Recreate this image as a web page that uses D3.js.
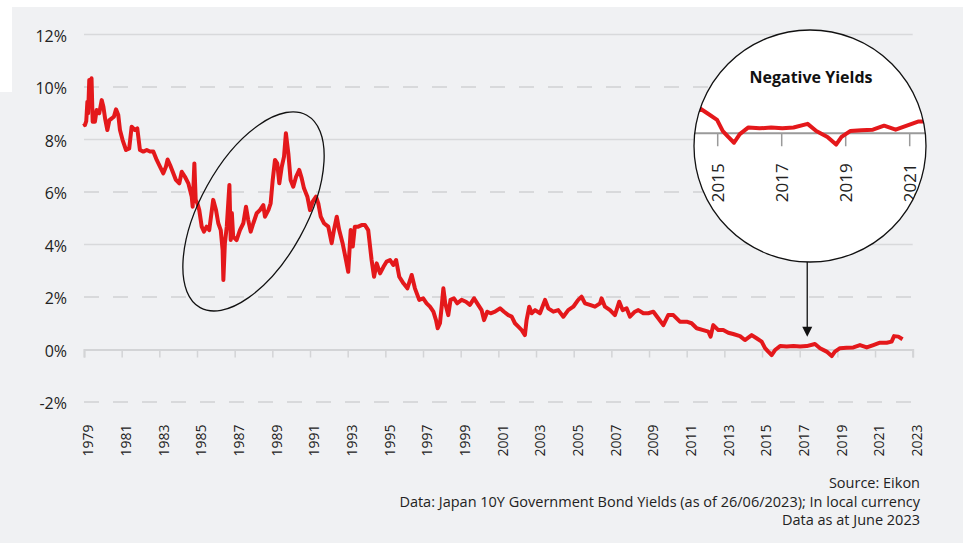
<!DOCTYPE html>
<html>
<head>
<meta charset="utf-8">
<script src="https://cdn.jsdelivr.net/npm/d3@7"></script>
<style>
  html, body { margin: 0; padding: 0; background: #fff; }
  svg { display: block; font-family: "Open Sans", "Noto Sans", sans-serif; }
</style>
</head>
<body>
<svg id="chart" width="963" height="550"></svg>
<script>
// Japan 10Y government bond yield (x in chart years)
const years = [
  1979.00, 1979.05, 1979.12, 1979.18, 1979.22, 1979.28, 1979.34, 1979.40, 1979.46, 1979.58,
  1979.67, 1979.81, 1979.94, 1980.03, 1980.12, 1980.24, 1980.35, 1980.47, 1980.59, 1980.70,
  1980.82, 1980.91, 1981.05, 1981.23, 1981.40, 1981.53, 1981.71, 1981.83, 1981.97, 1982.15,
  1982.33, 1982.50, 1982.68, 1982.86, 1983.04, 1983.21, 1983.35, 1983.44, 1983.57, 1983.71,
  1983.88, 1984.06, 1984.19, 1984.36, 1984.54, 1984.72, 1984.77, 1984.86, 1984.93, 1985.02,
  1985.12, 1985.25, 1985.37, 1985.51, 1985.65, 1985.86, 1986.01, 1986.13, 1986.26, 1986.36,
  1986.40, 1986.48, 1986.58, 1986.72, 1986.79, 1986.85, 1986.92, 1987.10, 1987.28, 1987.46,
  1987.60, 1987.72, 1987.85, 1987.99, 1988.17, 1988.34, 1988.52, 1988.61, 1988.79, 1988.91,
  1989.02, 1989.14, 1989.26, 1989.37, 1989.50, 1989.62, 1989.72, 1989.85, 1989.97, 1990.11,
  1990.26, 1990.43, 1990.56, 1990.68, 1990.86, 1991.00, 1991.14, 1991.32, 1991.44, 1991.57,
  1991.74, 1991.97, 1992.15, 1992.27, 1992.42, 1992.55, 1992.73, 1992.91, 1993.03, 1993.16,
  1993.27, 1993.38, 1993.56, 1993.74, 1993.92, 1994.09, 1994.27, 1994.40, 1994.54, 1994.72,
  1994.90, 1995.07, 1995.25, 1995.42, 1995.57, 1995.74, 1995.96, 1996.17, 1996.40, 1996.57,
  1996.80, 1997.01, 1997.19, 1997.37, 1997.55, 1997.69, 1997.78, 1997.90, 1997.99, 1998.08,
  1998.18, 1998.34, 1998.46, 1998.64, 1998.82, 1999.05, 1999.28, 1999.49, 1999.71, 1999.93,
  2000.11, 2000.24, 2000.41, 2000.59, 2000.82, 2001.09, 2001.30, 2001.53, 2001.71, 2001.88,
  2002.06, 2002.24, 2002.41, 2002.50, 2002.64, 2002.77, 2002.95, 2003.21, 2003.48, 2003.65,
  2003.92, 2004.18, 2004.45, 2004.71, 2004.98, 2005.24, 2005.42, 2005.60, 2005.86, 2006.13,
  2006.40, 2006.48, 2006.66, 2006.93, 2007.19, 2007.42, 2007.60, 2007.81, 2007.99, 2008.25,
  2008.43, 2008.70, 2008.96, 2009.23, 2009.49, 2009.76, 2010.02, 2010.29, 2010.64, 2011.00,
  2011.26, 2011.53, 2011.88, 2012.15, 2012.27, 2012.41, 2012.68, 2012.94, 2013.21, 2013.47,
  2013.83, 2014.09, 2014.45, 2014.71, 2014.98, 2015.16, 2015.33, 2015.51, 2015.69, 2015.96,
  2016.31, 2016.67, 2017.02, 2017.37, 2017.81, 2018.08, 2018.43, 2018.70, 2018.87, 2019.14,
  2019.49, 2019.85, 2020.20, 2020.56, 2020.91, 2021.26, 2021.62, 2021.88, 2022.01, 2022.24,
  2022.46
];
const yields = [
  8.62, 8.55, 8.70, 9.44, 9.00, 10.27, 9.60, 10.33, 8.68, 8.68,
  9.12, 9.00, 9.50, 9.25, 8.80, 8.36, 8.74, 8.80, 8.87, 9.15,
  8.93, 8.36, 7.98, 7.60, 7.66, 8.49, 8.36, 8.42, 7.60, 7.54,
  7.60, 7.54, 7.54, 7.22, 6.96, 6.71, 6.96, 7.24, 7.03, 6.77,
  6.46, 6.33, 6.77, 6.58, 6.33, 5.82, 5.44, 7.09, 5.70, 5.57,
  5.31, 4.68, 4.49, 4.68, 4.55, 5.70, 5.31, 4.81, 4.55, 3.79,
  2.65, 4.05, 4.68, 6.27, 4.17, 5.20, 4.30, 4.17, 4.55, 4.81,
  5.44, 4.93, 4.49, 4.81, 5.19, 5.31, 5.50, 5.06, 5.31, 5.57,
  6.46, 7.22, 7.09, 6.33, 6.96, 7.35, 8.24, 7.47, 6.46, 6.20,
  6.58, 6.84, 6.52, 6.14, 5.82, 5.31, 5.63, 5.82, 5.57, 5.06,
  4.81, 4.68, 4.05, 4.55, 5.06, 4.55, 4.05, 3.41, 2.96, 4.55,
  3.92, 4.68, 4.68, 4.74, 4.74, 4.55, 3.41, 2.77, 3.28, 2.90,
  3.15, 3.35, 3.41, 3.22, 3.41, 2.77, 2.52, 2.33, 2.84, 2.33,
  1.89, 1.95, 1.76, 1.63, 1.44, 1.12, 0.81, 1.00, 1.63, 2.33,
  1.76, 1.31, 1.89, 1.95, 1.76, 1.89, 1.82, 1.70, 1.95, 1.70,
  1.50, 1.12, 1.44, 1.38, 1.44, 1.57, 1.44, 1.31, 1.25, 1.00,
  0.87, 0.74, 0.55, 1.12, 1.63, 1.38, 1.50, 1.38, 1.89, 1.57,
  1.44, 1.50, 1.25, 1.50, 1.63, 1.89, 2.01, 1.76, 1.70, 1.63,
  1.76, 1.95, 1.63, 1.50, 1.31, 1.82, 1.50, 1.57, 1.25, 1.44,
  1.50, 1.38, 1.38, 1.44, 1.19, 0.93, 1.31, 1.31, 1.06, 1.06,
  1.00, 0.81, 0.74, 0.68, 0.49, 0.93, 0.74, 0.74, 0.64, 0.59,
  0.51, 0.36, 0.55, 0.43, 0.30, 0.05, -0.08, -0.21, -0.02, 0.13,
  0.11, 0.13, 0.11, 0.13, 0.21, 0.05, -0.08, -0.25, -0.08, 0.05,
  0.07, 0.08, 0.17, 0.08, 0.17, 0.26, 0.26, 0.30, 0.51, 0.49,
  0.39
];
const yTicks = [-2, 0, 2, 4, 6, 8, 10, 12];
const xTicks = [1979, 1981, 1983, 1985, 1987, 1989, 1991, 1993, 1995, 1997, 1999, 2001,
  2003, 2005, 2007, 2009, 2011, 2013, 2015, 2017, 2019, 2021, 2023];
const insetTicks = [2015, 2017, 2019, 2021];
const sourceLines = [
  "Source: Eikon",
  "Data: Japan 10Y Government Bond Yields (as of 26/06/2023); In local currency",
  "Data as at June 2023"
];

const data = years.map((d, i) => ({ year: d, value: yields[i] }));
const red = "#e4181b";

const svg = d3.select("#chart");

// background panel (slightly offset block at top-left like the source image)
svg.append("rect").attr("x", 12).attr("y", 7).attr("width", 951).attr("height", 536).attr("fill", "#f0f1f3");
svg.append("rect").attr("x", 0).attr("y", 92).attr("width", 12).attr("height", 451).attr("fill", "#f0f1f3");

const x = d3.scaleLinear().domain([1979, 2023]).range([84, 912.7]);
const y = d3.scaleLinear().domain([-2, 12]).range([402, 34.5]);

// gridlines: solid for multiples of 4, dashed otherwise
svg.append("g")
  .selectAll("line")
  .data(yTicks.filter(d => d !== 0))
  .join("line")
  .attr("x1", x.range()[0])
  .attr("x2", x.range()[1])
  .attr("y1", d => y(d))
  .attr("y2", d => y(d))
  .attr("stroke", "#d8d9db")
  .attr("stroke-width", d => d % 4 === 0 ? 1.5 : 2)
  .attr("stroke-dasharray", d => d % 4 === 0 ? null : "15,14");

// y labels
svg.append("g")
  .selectAll("text")
  .data(yTicks)
  .join("text")
  .attr("x", 67)
  .attr("y", d => y(d) + 1.5)
  .attr("dy", "0.35em")
  .attr("text-anchor", "end")
  .attr("font-size", 16)
  .attr("fill", "#222")
  .text(d => d + "%");

// x axis at 0%
const xAxis = svg.append("g")
  .attr("transform", `translate(0,${y(0)})`)
  .call(d3.axisBottom(x).tickValues(xTicks).tickSize(8).tickFormat(d3.format("d")));
xAxis.select(".domain").attr("stroke", "#d3d4d6").attr("stroke-width", 2);
xAxis.selectAll(".tick line").attr("stroke", "#d3d4d6").attr("stroke-width", 1.5);
xAxis.selectAll(".tick text")
  .attr("font-size", 14)
  .attr("font-family", "'Open Sans', sans-serif")
  .attr("fill", "#222")
  .attr("text-anchor", "end")
  .attr("transform", "translate(4,75) rotate(-90)")
  .attr("x", 0)
  .attr("y", 0)
  .attr("dy", "0.35em");

// main series
const line = d3.line().x(d => x(d.year)).y(d => y(d.value));
svg.append("path")
  .datum(data)
  .attr("fill", "none")
  .attr("stroke", red)
  .attr("stroke-width", 4)
  .attr("stroke-linejoin", "round")
  .attr("d", line);

// ellipse round the late-80s bubble
svg.append("ellipse")
  .attr("transform", `translate(${x(1988.0)},${y(5.26)}) rotate(-61)`)
  .attr("rx", 110)
  .attr("ry", 53)
  .attr("fill", "none")
  .attr("stroke", "#111")
  .attr("stroke-width", 1.3);

// inset: negative yields
const cx = 810, cy = 146, r = 116;
const xi = d3.scaleLinear().domain([2015, 2021]).range([717.7, 909.7]);
const yi = d3.scaleLinear().domain([0, 1]).range([133.3, 88.3]);

svg.append("defs").append("clipPath").attr("id", "insetClip")
  .append("circle").attr("cx", cx).attr("cy", cy).attr("r", r);

svg.append("circle").attr("cx", cx).attr("cy", cy).attr("r", r).attr("fill", "#fff");

const inset = svg.append("g").attr("clip-path", "url(#insetClip)");

inset.append("line")
  .attr("x1", cx - r).attr("x2", cx + r)
  .attr("y1", yi(0)).attr("y2", yi(0))
  .attr("stroke", "#9a9a9a").attr("stroke-width", 2);

inset.append("g")
  .selectAll("line")
  .data(insetTicks)
  .join("line")
  .attr("x1", d => xi(d)).attr("x2", d => xi(d))
  .attr("y1", yi(0)).attr("y2", yi(0) + 13)
  .attr("stroke", "#9a9a9a").attr("stroke-width", 1.5);

inset.append("g")
  .selectAll("text")
  .data(insetTicks)
  .join("text")
  .attr("transform", d => `translate(${xi(d)},${yi(0) + 30}) rotate(-90)`)
  .attr("dy", "0.35em")
  .attr("text-anchor", "end")
  .attr("font-size", 17)
  .attr("fill", "#222")
  .text(d => d);

inset.append("path")
  .datum(data.filter(d => d.year >= 2013.8))
  .attr("fill", "none")
  .attr("stroke", red)
  .attr("stroke-width", 4)
  .attr("stroke-linejoin", "round")
  .attr("d", d3.line().x(d => xi(d.year)).y(d => yi(d.value)));

svg.append("text")
  .attr("x", cx + 1)
  .attr("y", 83)
  .attr("text-anchor", "middle")
  .attr("font-size", 16)
  .attr("font-weight", "bold")
  .attr("fill", "#111")
  .text("Negative Yields");

svg.append("circle").attr("cx", cx).attr("cy", cy).attr("r", r)
  .attr("fill", "none").attr("stroke", "#111").attr("stroke-width", 1.3);

// arrow from inset down to the series
const ax = x(2017.4);
svg.append("line")
  .attr("x1", ax).attr("x2", ax)
  .attr("y1", cy + r).attr("y2", y(0.49) - 8)
  .attr("stroke", "#111").attr("stroke-width", 1.3);
svg.append("path")
  .attr("d", `M${ax - 5},${y(0.49) - 10} L${ax + 5},${y(0.49) - 10} L${ax},${y(0.49)} Z`)
  .attr("fill", "#111");

// source notes
svg.append("g")
  .selectAll("text")
  .data(sourceLines)
  .join("text")
  .attr("x", 920)
  .attr("y", (d, i) => 488 + i * 18.5)
  .attr("text-anchor", "end")
  .attr("font-size", 14.5)
  .attr("fill", "#222")
  .text(d => d);
</script>
</body>
</html>
